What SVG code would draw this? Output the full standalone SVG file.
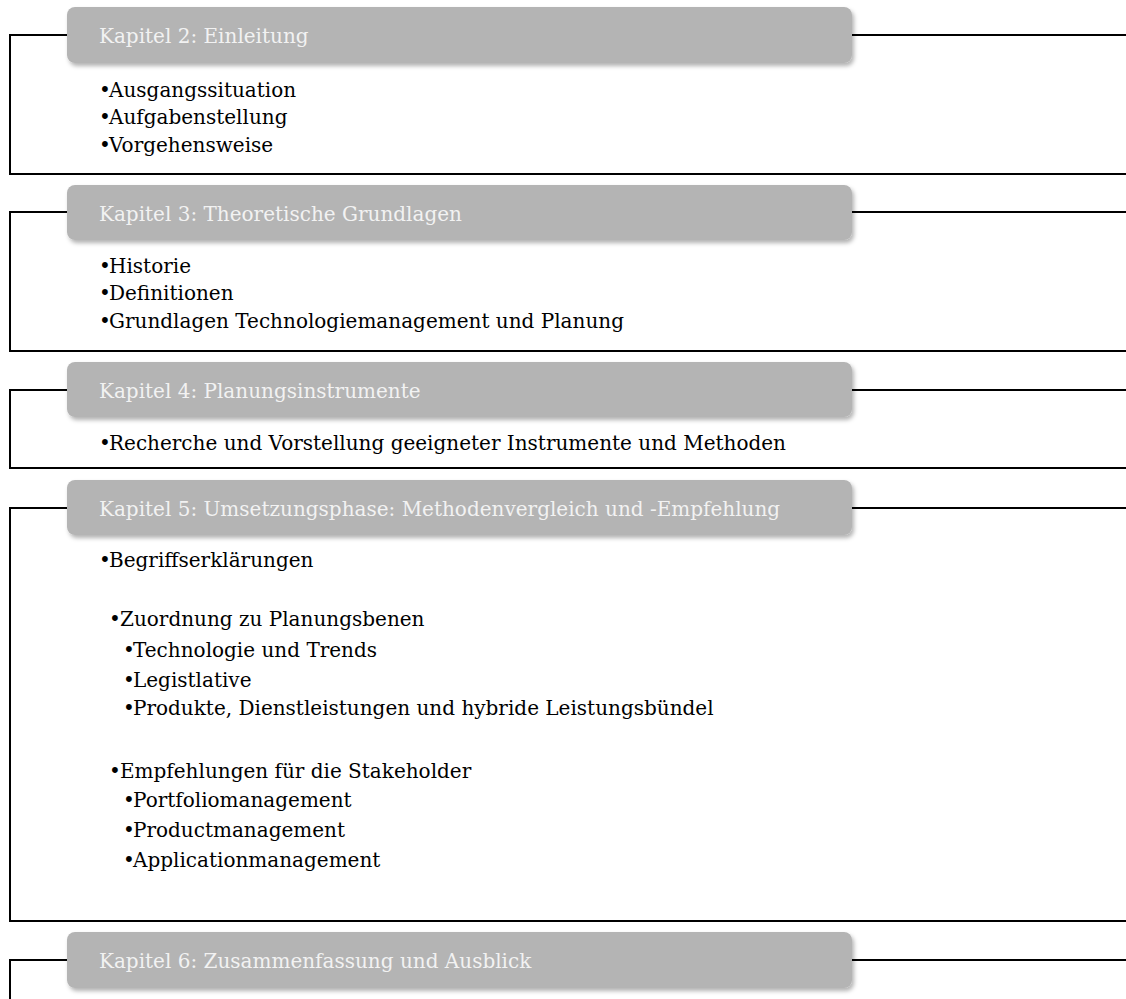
<svg xmlns="http://www.w3.org/2000/svg" width="1126" height="999" viewBox="0 0 1126 999">
  <defs>
    <filter id="shadow" x="-5%" y="-20%" width="110%" height="160%">
      <feDropShadow dx="2" dy="3" stdDeviation="2.2" flood-color="#000" flood-opacity="0.3"/>
    </filter>
  </defs>
  <style>
    .frame { fill: none; stroke: #000; stroke-width: 2; }
    .head { fill: #b4b4b4; filter: url(#shadow); }
    .htxt { font-family: "DejaVu Serif", "Liberation Serif", serif; font-size: 20px; fill: #f2f2f2; }
    .btxt { font-family: "DejaVu Serif", "Liberation Serif", serif; font-size: 20px; fill: #000; }
  </style>
  <rect width="1126" height="999" fill="#fff"/>

  <!-- connector frames around each chapter -->
  <g id="connectors">
    <path class="frame" d="M67 35 H10 V174 H1126 M852 35 H1126"/>
    <path class="frame" d="M67 212 H10 V351 H1126 M852 212 H1126"/>
    <path class="frame" d="M67 390 H10 V468 H1126 M852 390 H1126"/>
    <path class="frame" d="M67 508 H10 V921 H1126 M852 508 H1126"/>
    <path class="frame" d="M67 960 H10 V999 M852 960 H1126"/>
  </g>

  <g id="kapitel2">
    <rect class="head" x="67" y="7" width="785" height="56" rx="8"/>
    <text class="htxt" x="99" y="43">Kapitel 2: Einleitung</text>
    <text class="btxt" y="97"><tspan x="99">•</tspan><tspan x="109">Ausgangssituation</tspan></text>
    <text class="btxt" y="124"><tspan x="99">•</tspan><tspan x="109">Aufgabenstellung</tspan></text>
    <text class="btxt" y="152"><tspan x="99">•</tspan><tspan x="109">Vorgehensweise</tspan></text>
  </g>

  <g id="kapitel3">
    <rect class="head" x="67" y="185" width="785" height="55" rx="8"/>
    <text class="htxt" x="99" y="221">Kapitel 3: Theoretische Grundlagen</text>
    <text class="btxt" y="273"><tspan x="99">•</tspan><tspan x="109">Historie</tspan></text>
    <text class="btxt" y="300"><tspan x="99">•</tspan><tspan x="109">Definitionen</tspan></text>
    <text class="btxt" y="328"><tspan x="99">•</tspan><tspan x="109">Grundlagen Technologiemanagement und Planung</tspan></text>
  </g>

  <g id="kapitel4">
    <rect class="head" x="67" y="362" width="785" height="55" rx="8"/>
    <text class="htxt" x="99" y="398">Kapitel 4: Planungsinstrumente</text>
    <text class="btxt" y="450"><tspan x="99">•</tspan><tspan x="109">Recherche und Vorstellung geeigneter Instrumente und Methoden</tspan></text>
  </g>

  <g id="kapitel5">
    <rect class="head" x="67" y="480" width="785" height="55" rx="8"/>
    <text class="htxt" x="99" y="516">Kapitel 5: Umsetzungsphase: Methodenvergleich und -Empfehlung</text>
    <text class="btxt" y="567"><tspan x="99">•</tspan><tspan x="109">Begriffserklärungen</tspan></text>
    <text class="btxt" y="626"><tspan x="109">•</tspan><tspan x="120">Zuordnung zu Planungsbenen</tspan></text>
    <text class="btxt" y="657"><tspan x="123">•</tspan><tspan x="133">Technologie und Trends</tspan></text>
    <text class="btxt" y="687"><tspan x="123">•</tspan><tspan x="133">Legistlative</tspan></text>
    <text class="btxt" y="715"><tspan x="123">•</tspan><tspan x="133">Produkte, Dienstleistungen und hybride Leistungsbündel</tspan></text>
    <text class="btxt" y="778"><tspan x="109">•</tspan><tspan x="120">Empfehlungen für die Stakeholder</tspan></text>
    <text class="btxt" y="807"><tspan x="123">•</tspan><tspan x="133">Portfoliomanagement</tspan></text>
    <text class="btxt" y="837"><tspan x="123">•</tspan><tspan x="133">Productmanagement</tspan></text>
    <text class="btxt" y="867"><tspan x="123">•</tspan><tspan x="133">Applicationmanagement</tspan></text>
  </g>

  <g id="kapitel6">
    <rect class="head" x="67" y="932" width="785" height="56" rx="8"/>
    <text class="htxt" x="99" y="968">Kapitel 6: Zusammenfassung und Ausblick</text>
  </g>
</svg>
